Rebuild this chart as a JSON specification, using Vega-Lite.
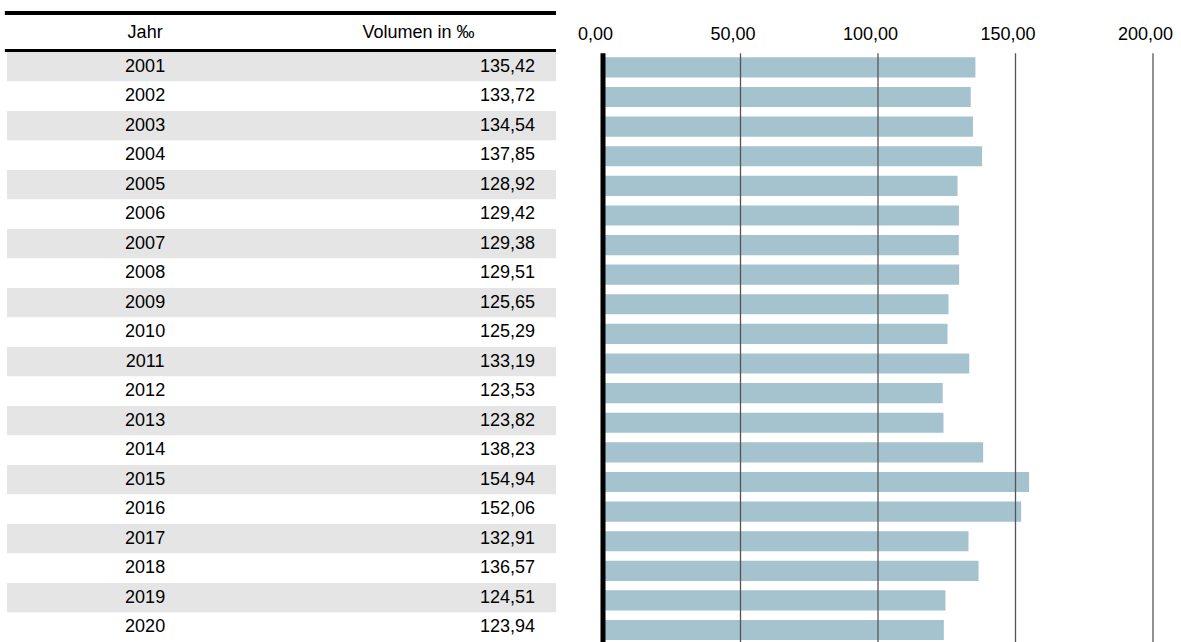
{
  "$schema": "https://vega.github.io/schema/vega-lite/v6.json",
  "width": 1181,
  "height": 642,
  "padding": 0,
  "autosize": {"type": "none"},
  "config": {
    "view": {"stroke": null},
    "font": "Liberation Sans",
    "locale": {"number": {"decimal": ",", "thousands": ".", "grouping": [3], "currency": ["", " €"]}}
  },
  "datasets": {
    "rows": [
      {"Jahr": "2001", "Volumen": 135.42},
      {"Jahr": "2002", "Volumen": 133.72},
      {"Jahr": "2003", "Volumen": 134.54},
      {"Jahr": "2004", "Volumen": 137.85},
      {"Jahr": "2005", "Volumen": 128.92},
      {"Jahr": "2006", "Volumen": 129.42},
      {"Jahr": "2007", "Volumen": 129.38},
      {"Jahr": "2008", "Volumen": 129.51},
      {"Jahr": "2009", "Volumen": 125.65},
      {"Jahr": "2010", "Volumen": 125.29},
      {"Jahr": "2011", "Volumen": 133.19},
      {"Jahr": "2012", "Volumen": 123.53},
      {"Jahr": "2013", "Volumen": 123.82},
      {"Jahr": "2014", "Volumen": 138.23},
      {"Jahr": "2015", "Volumen": 154.94},
      {"Jahr": "2016", "Volumen": 152.06},
      {"Jahr": "2017", "Volumen": 132.91},
      {"Jahr": "2018", "Volumen": 136.57},
      {"Jahr": "2019", "Volumen": 124.51},
      {"Jahr": "2020", "Volumen": 123.94}
    ],
    "grid": [{"t": 50}, {"t": 100}, {"t": 150}, {"t": 200}],
    "head": [{"h1": "Jahr", "h2": "Volumen in ‰"}]
  },
  "resolve": {"scale": {"y": "independent"}},
  "layer": [
    {
      "layer": [
        {
          "data": {"name": "rows"},
          "mark": {"type": "rect"},
          "encoding": {
            "x": {"datum": -216.7, "type": "quantitative", "title": null},
            "x2": {"datum": -17.1},
            "y": {"field": "Jahr", "type": "ordinal", "axis": null, "scale": {"type": "band", "paddingInner": 0, "paddingOuter": 0.881, "align": 1}},
            "fill": {"condition": {"test": "datum.Jahr % 2 == 1", "value": "#e5e5e5"}, "value": "#ffffff"}
          }
        },
        {
          "data": {"name": "rows"},
          "mark": {"type": "text", "fontSize": 18, "baseline": "middle", "align": "center", "color": "#000000"},
          "encoding": {
            "x": {"datum": -166.5, "type": "quantitative", "title": null},
            "y": {"field": "Jahr", "type": "ordinal", "axis": null},
            "text": {"field": "Jahr"}
          }
        },
        {
          "data": {"name": "rows"},
          "mark": {"type": "text", "fontSize": 18, "baseline": "middle", "align": "right", "color": "#000000"},
          "encoding": {
            "x": {"datum": -24.7, "type": "quantitative", "title": null},
            "y": {"field": "Jahr", "type": "ordinal", "axis": null},
            "text": {"field": "Volumen", "type": "quantitative", "format": ".2f"}
          }
        },
        {
          "data": {"name": "head"},
          "mark": {"type": "text", "fontSize": 18, "baseline": "middle", "align": "center", "color": "#000000"},
          "encoding": {
            "x": {"datum": -166.5, "type": "quantitative", "title": null},
            "y": {"datum": "2001", "type": "ordinal", "axis": null, "bandPosition": -0.627},
            "text": {"field": "h1"}
          }
        },
        {
          "data": {"name": "head"},
          "mark": {"type": "text", "fontSize": 18, "baseline": "middle", "align": "center", "color": "#000000"},
          "encoding": {
            "x": {"datum": -67.1, "type": "quantitative", "title": null},
            "y": {"datum": "2001", "type": "ordinal", "axis": null, "bandPosition": -0.627},
            "text": {"field": "h2"}
          }
        },
        {
          "data": {"name": "head"},
          "mark": {"type": "rule", "strokeWidth": 4, "color": "#000000"},
          "encoding": {
            "x": {"datum": -217.5, "type": "quantitative", "title": null},
            "x2": {"datum": -17.1},
            "y": {"datum": "2001", "type": "ordinal", "axis": null, "bandPosition": -1.322}
          }
        },
        {
          "data": {"name": "head"},
          "mark": {"type": "rule", "strokeWidth": 3, "color": "#000000"},
          "encoding": {
            "x": {"datum": -217.5, "type": "quantitative", "title": null},
            "x2": {"datum": -17.1},
            "y": {"datum": "2001", "type": "ordinal", "axis": null, "bandPosition": -0.051}
          }
        }
      ]
    },
    {
      "layer": [
        {
          "data": {"name": "rows"},
          "mark": {"type": "bar", "color": "#a5c3cf"},
          "encoding": {
            "x": {
              "field": "Volumen", "type": "quantitative", "title": null,
              "scale": {"domain": [-219.27, 210.18], "nice": false, "zero": false},
              "axis": {
                "orient": "top", "values": [0, 50, 100, 150, 200], "format": ".2f",
                "offset": -34, "domain": false, "ticks": false, "tickSize": 0, "grid": false,
                "labelPadding": 0, "labelBaseline": "middle", "labelFontSize": 18,
                "labelColor": "#000000", "labelFont": "Liberation Sans", "labelFlush": false,
                "labelOffset": -8, "labelOverlap": false, "title": null
              }
            },
            "y": {"field": "Jahr", "type": "ordinal", "axis": null, "scale": {"type": "band", "paddingInner": 0.32, "paddingOuter": 1.071, "align": 0.968}}
          }
        },
        {
          "data": {"name": "grid"},
          "mark": {"type": "rule", "strokeWidth": 1.3, "color": "#555555"},
          "encoding": {
            "x": {"field": "t", "type": "quantitative", "title": null},
            "y": {"datum": "2001", "type": "ordinal", "axis": null, "bandPosition": -0.2},
            "y2": {"datum": "2020", "bandPosition": 1.1}
          }
        },
        {
          "data": {"name": "head"},
          "mark": {"type": "rule", "strokeWidth": 5, "color": "#000000"},
          "encoding": {
            "x": {"datum": 0, "type": "quantitative", "title": null},
            "y": {"datum": "2001", "type": "ordinal", "axis": null, "bandPosition": -0.2},
            "y2": {"datum": "2020", "bandPosition": 1.1}
          }
        }
      ]
    }
  ]
}
